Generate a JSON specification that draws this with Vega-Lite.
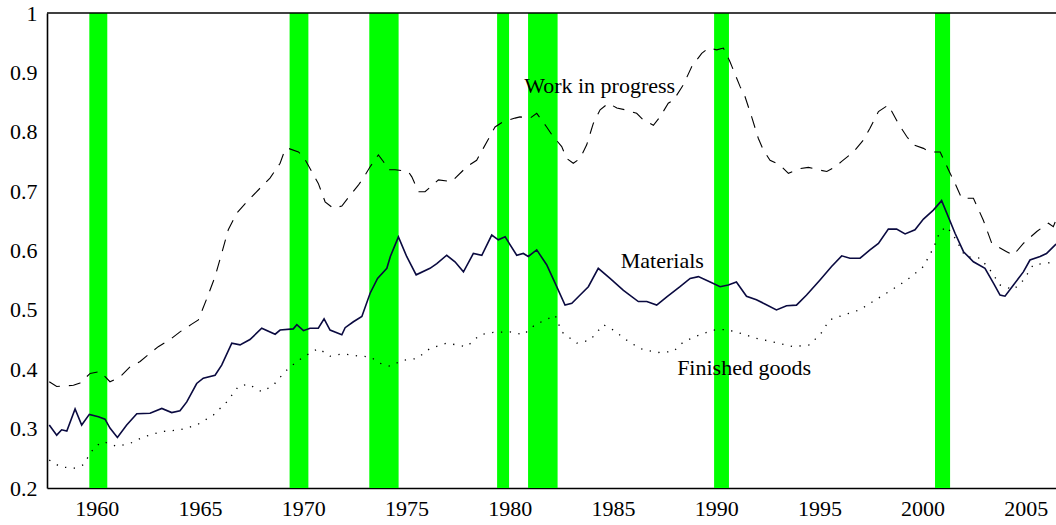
{
  "$schema": "https://vega.github.io/schema/vega-lite/v6.json",
  "width": 1009,
  "height": 475,
  "autosize": {"type": "none"},
  "padding": {"left": 47, "top": 13, "right": 0, "bottom": 37},
  "background": "white",
  "config": {
    "view": {"stroke": null},
    "font": "Liberation Serif",
    "axis": {"labelFont": "Liberation Serif", "labelFontSize": 22, "labelColor": "#000", "grid": false, "title": null, "domainColor": "#000", "domainWidth": 1.6, "tickSize": 0}
  },
  "datasets": {
    "bands": [
      {"start": 1959.64, "end": 1960.51},
      {"start": 1969.34, "end": 1970.25},
      {"start": 1973.20, "end": 1974.62},
      {"start": 1979.39, "end": 1979.97},
      {"start": 1980.89, "end": 1982.32},
      {"start": 1989.90, "end": 1990.62},
      {"start": 2000.60, "end": 2001.33}
    ],
    "materials": [
      {"year": 1957.70, "value": 0.306}, {"year": 1958.06, "value": 0.289}, {"year": 1958.30, "value": 0.298}, {"year": 1958.55, "value": 0.296},
      {"year": 1958.95, "value": 0.333}, {"year": 1959.27, "value": 0.306}, {"year": 1959.64, "value": 0.324}, {"year": 1960.08, "value": 0.320},
      {"year": 1960.40, "value": 0.316}, {"year": 1960.64, "value": 0.301}, {"year": 1961.00, "value": 0.285}, {"year": 1961.45, "value": 0.306},
      {"year": 1961.94, "value": 0.325}, {"year": 1962.58, "value": 0.326}, {"year": 1963.15, "value": 0.334}, {"year": 1963.63, "value": 0.327},
      {"year": 1964.03, "value": 0.330}, {"year": 1964.36, "value": 0.345}, {"year": 1964.84, "value": 0.376}, {"year": 1965.16, "value": 0.385},
      {"year": 1965.73, "value": 0.390}, {"year": 1966.05, "value": 0.407}, {"year": 1966.54, "value": 0.444}, {"year": 1966.94, "value": 0.441},
      {"year": 1967.42, "value": 0.450}, {"year": 1967.99, "value": 0.469}, {"year": 1968.64, "value": 0.459}, {"year": 1968.88, "value": 0.466},
      {"year": 1969.52, "value": 0.468}, {"year": 1969.69, "value": 0.475}, {"year": 1970.01, "value": 0.465}, {"year": 1970.33, "value": 0.469},
      {"year": 1970.73, "value": 0.469}, {"year": 1971.01, "value": 0.485}, {"year": 1971.30, "value": 0.466}, {"year": 1971.87, "value": 0.458},
      {"year": 1972.03, "value": 0.470}, {"year": 1972.43, "value": 0.480}, {"year": 1972.84, "value": 0.489}, {"year": 1973.24, "value": 0.528},
      {"year": 1973.60, "value": 0.553}, {"year": 1974.05, "value": 0.570}, {"year": 1974.22, "value": 0.590}, {"year": 1974.61, "value": 0.623},
      {"year": 1975.01, "value": 0.590}, {"year": 1975.47, "value": 0.559}, {"year": 1976.14, "value": 0.570}, {"year": 1976.47, "value": 0.578},
      {"year": 1976.95, "value": 0.592}, {"year": 1977.35, "value": 0.581}, {"year": 1977.76, "value": 0.564}, {"year": 1978.24, "value": 0.595},
      {"year": 1978.65, "value": 0.592}, {"year": 1979.13, "value": 0.626}, {"year": 1979.45, "value": 0.618}, {"year": 1979.78, "value": 0.623},
      {"year": 1980.34, "value": 0.592}, {"year": 1980.66, "value": 0.595}, {"year": 1980.90, "value": 0.590}, {"year": 1981.31, "value": 0.601},
      {"year": 1981.79, "value": 0.576}, {"year": 1982.20, "value": 0.545}, {"year": 1982.68, "value": 0.508}, {"year": 1983.01, "value": 0.511},
      {"year": 1983.41, "value": 0.525}, {"year": 1983.81, "value": 0.539}, {"year": 1984.29, "value": 0.570}, {"year": 1984.86, "value": 0.553},
      {"year": 1985.51, "value": 0.533}, {"year": 1986.23, "value": 0.514}, {"year": 1986.64, "value": 0.514}, {"year": 1987.12, "value": 0.508},
      {"year": 1987.61, "value": 0.522}, {"year": 1988.25, "value": 0.539}, {"year": 1988.74, "value": 0.553}, {"year": 1989.14, "value": 0.556},
      {"year": 1989.71, "value": 0.547}, {"year": 1990.19, "value": 0.539}, {"year": 1990.59, "value": 0.542}, {"year": 1990.98, "value": 0.547},
      {"year": 1991.47, "value": 0.523}, {"year": 1991.95, "value": 0.517}, {"year": 1992.36, "value": 0.510}, {"year": 1992.92, "value": 0.500},
      {"year": 1993.41, "value": 0.507}, {"year": 1993.89, "value": 0.508}, {"year": 1994.38, "value": 0.525}, {"year": 1995.02, "value": 0.550},
      {"year": 1995.59, "value": 0.573}, {"year": 1996.08, "value": 0.591}, {"year": 1996.48, "value": 0.587}, {"year": 1996.97, "value": 0.587},
      {"year": 1997.45, "value": 0.601}, {"year": 1997.86, "value": 0.612}, {"year": 1998.34, "value": 0.636}, {"year": 1998.74, "value": 0.636},
      {"year": 1999.15, "value": 0.628}, {"year": 1999.63, "value": 0.635}, {"year": 2000.04, "value": 0.653}, {"year": 2000.52, "value": 0.668},
      {"year": 2000.92, "value": 0.684}, {"year": 2001.17, "value": 0.663}, {"year": 2001.57, "value": 0.629}, {"year": 2001.98, "value": 0.598},
      {"year": 2002.46, "value": 0.581}, {"year": 2003.02, "value": 0.570}, {"year": 2003.43, "value": 0.545}, {"year": 2003.75, "value": 0.525},
      {"year": 2003.99, "value": 0.523}, {"year": 2004.40, "value": 0.542}, {"year": 2004.88, "value": 0.564}, {"year": 2005.20, "value": 0.584},
      {"year": 2005.69, "value": 0.590}, {"year": 2006.00, "value": 0.595}, {"year": 2006.41, "value": 0.609}, {"year": 2006.73, "value": 0.618}
    ],
    "wip": [
      {"year": 1957.70, "value": 0.379}, {"year": 1958.06, "value": 0.371}, {"year": 1958.87, "value": 0.373}, {"year": 1959.19, "value": 0.377},
      {"year": 1959.68, "value": 0.393}, {"year": 1960.16, "value": 0.396}, {"year": 1960.64, "value": 0.379}, {"year": 1961.13, "value": 0.387},
      {"year": 1961.61, "value": 0.404}, {"year": 1962.10, "value": 0.413}, {"year": 1962.58, "value": 0.427}, {"year": 1962.98, "value": 0.438},
      {"year": 1963.55, "value": 0.450}, {"year": 1964.03, "value": 0.463}, {"year": 1964.60, "value": 0.476}, {"year": 1964.92, "value": 0.483},
      {"year": 1965.33, "value": 0.519}, {"year": 1965.73, "value": 0.556}, {"year": 1966.05, "value": 0.595}, {"year": 1966.37, "value": 0.635},
      {"year": 1966.78, "value": 0.663}, {"year": 1967.27, "value": 0.682}, {"year": 1967.91, "value": 0.705}, {"year": 1968.39, "value": 0.722},
      {"year": 1968.88, "value": 0.747}, {"year": 1969.12, "value": 0.770}, {"year": 1969.28, "value": 0.772}, {"year": 1969.77, "value": 0.766},
      {"year": 1970.01, "value": 0.758}, {"year": 1970.41, "value": 0.733}, {"year": 1970.73, "value": 0.713}, {"year": 1971.06, "value": 0.682},
      {"year": 1971.46, "value": 0.671}, {"year": 1971.87, "value": 0.675}, {"year": 1972.27, "value": 0.693}, {"year": 1972.67, "value": 0.710},
      {"year": 1973.00, "value": 0.727}, {"year": 1973.24, "value": 0.741}, {"year": 1973.64, "value": 0.761}, {"year": 1973.88, "value": 0.750},
      {"year": 1974.12, "value": 0.736}, {"year": 1974.45, "value": 0.736}, {"year": 1975.09, "value": 0.733}, {"year": 1975.26, "value": 0.724},
      {"year": 1975.58, "value": 0.699}, {"year": 1975.90, "value": 0.699}, {"year": 1976.55, "value": 0.719}, {"year": 1977.19, "value": 0.716},
      {"year": 1977.92, "value": 0.741}, {"year": 1978.40, "value": 0.752}, {"year": 1978.72, "value": 0.772}, {"year": 1979.29, "value": 0.808},
      {"year": 1979.69, "value": 0.817}, {"year": 1980.26, "value": 0.823}, {"year": 1980.50, "value": 0.825}, {"year": 1980.99, "value": 0.823},
      {"year": 1981.31, "value": 0.831}, {"year": 1981.79, "value": 0.808}, {"year": 1982.04, "value": 0.795}, {"year": 1982.52, "value": 0.775},
      {"year": 1982.76, "value": 0.755}, {"year": 1983.08, "value": 0.747}, {"year": 1983.41, "value": 0.755}, {"year": 1983.73, "value": 0.778},
      {"year": 1984.05, "value": 0.814}, {"year": 1984.38, "value": 0.837}, {"year": 1984.78, "value": 0.848}, {"year": 1985.19, "value": 0.840},
      {"year": 1985.59, "value": 0.837}, {"year": 1986.15, "value": 0.831}, {"year": 1986.47, "value": 0.820}, {"year": 1986.96, "value": 0.811},
      {"year": 1987.28, "value": 0.825}, {"year": 1987.68, "value": 0.848}, {"year": 1987.93, "value": 0.853}, {"year": 1988.41, "value": 0.879},
      {"year": 1988.82, "value": 0.910}, {"year": 1989.30, "value": 0.932}, {"year": 1989.63, "value": 0.941}, {"year": 1990.03, "value": 0.938},
      {"year": 1990.35, "value": 0.941}, {"year": 1990.67, "value": 0.918}, {"year": 1991.16, "value": 0.876}, {"year": 1991.40, "value": 0.859},
      {"year": 1991.72, "value": 0.825}, {"year": 1992.04, "value": 0.789}, {"year": 1992.29, "value": 0.769}, {"year": 1992.61, "value": 0.752},
      {"year": 1993.09, "value": 0.744}, {"year": 1993.50, "value": 0.730}, {"year": 1994.06, "value": 0.738}, {"year": 1994.47, "value": 0.740},
      {"year": 1994.95, "value": 0.736}, {"year": 1995.36, "value": 0.733}, {"year": 1995.76, "value": 0.741}, {"year": 1996.08, "value": 0.750},
      {"year": 1996.65, "value": 0.766}, {"year": 1997.13, "value": 0.786}, {"year": 1997.45, "value": 0.806}, {"year": 1997.86, "value": 0.834},
      {"year": 1998.34, "value": 0.845}, {"year": 1998.82, "value": 0.814}, {"year": 1999.23, "value": 0.792}, {"year": 1999.55, "value": 0.778},
      {"year": 2000.04, "value": 0.772}, {"year": 2000.36, "value": 0.766}, {"year": 2000.85, "value": 0.766}, {"year": 2001.25, "value": 0.736},
      {"year": 2001.57, "value": 0.713}, {"year": 2001.89, "value": 0.688}, {"year": 2002.46, "value": 0.688}, {"year": 2002.94, "value": 0.651},
      {"year": 2003.35, "value": 0.612}, {"year": 2004.07, "value": 0.598}, {"year": 2004.39, "value": 0.592}, {"year": 2004.88, "value": 0.612},
      {"year": 2005.53, "value": 0.632}, {"year": 2006.09, "value": 0.646}, {"year": 2006.33, "value": 0.640}, {"year": 2006.50, "value": 0.655}
    ],
    "finished": [
      {"year": 1957.70, "value": 0.247}, {"year": 1958.22, "value": 0.236}, {"year": 1958.87, "value": 0.233}, {"year": 1959.35, "value": 0.239},
      {"year": 1959.68, "value": 0.258}, {"year": 1959.92, "value": 0.270}, {"year": 1960.32, "value": 0.278}, {"year": 1960.97, "value": 0.270},
      {"year": 1961.61, "value": 0.275}, {"year": 1962.26, "value": 0.286}, {"year": 1963.15, "value": 0.295}, {"year": 1964.03, "value": 0.298},
      {"year": 1964.84, "value": 0.306}, {"year": 1965.65, "value": 0.323}, {"year": 1966.30, "value": 0.345}, {"year": 1966.86, "value": 0.371},
      {"year": 1967.34, "value": 0.375}, {"year": 1967.99, "value": 0.362}, {"year": 1968.55, "value": 0.373}, {"year": 1969.12, "value": 0.396},
      {"year": 1969.69, "value": 0.413}, {"year": 1970.17, "value": 0.424}, {"year": 1970.73, "value": 0.435}, {"year": 1971.30, "value": 0.422},
      {"year": 1971.94, "value": 0.426}, {"year": 1972.75, "value": 0.422}, {"year": 1973.24, "value": 0.421}, {"year": 1973.72, "value": 0.410},
      {"year": 1974.20, "value": 0.405}, {"year": 1974.80, "value": 0.415}, {"year": 1975.50, "value": 0.418}, {"year": 1976.14, "value": 0.435},
      {"year": 1976.95, "value": 0.444}, {"year": 1977.92, "value": 0.438}, {"year": 1978.56, "value": 0.458}, {"year": 1979.21, "value": 0.462},
      {"year": 1980.02, "value": 0.463}, {"year": 1980.66, "value": 0.458}, {"year": 1981.23, "value": 0.475}, {"year": 1981.79, "value": 0.484},
      {"year": 1982.20, "value": 0.491}, {"year": 1982.52, "value": 0.463}, {"year": 1983.25, "value": 0.444}, {"year": 1983.89, "value": 0.449},
      {"year": 1984.54, "value": 0.475}, {"year": 1985.02, "value": 0.466}, {"year": 1985.67, "value": 0.449}, {"year": 1986.31, "value": 0.435},
      {"year": 1987.12, "value": 0.428}, {"year": 1987.93, "value": 0.430}, {"year": 1988.41, "value": 0.446}, {"year": 1989.06, "value": 0.456},
      {"year": 1989.86, "value": 0.466}, {"year": 1990.50, "value": 0.467}, {"year": 1991.13, "value": 0.461}, {"year": 1991.95, "value": 0.452},
      {"year": 1992.75, "value": 0.446}, {"year": 1993.72, "value": 0.438}, {"year": 1994.53, "value": 0.441}, {"year": 1995.09, "value": 0.461},
      {"year": 1995.49, "value": 0.483}, {"year": 1996.14, "value": 0.491}, {"year": 1996.95, "value": 0.500}, {"year": 1997.59, "value": 0.514},
      {"year": 1998.24, "value": 0.528}, {"year": 1998.88, "value": 0.542}, {"year": 1999.45, "value": 0.556}, {"year": 2000.04, "value": 0.573},
      {"year": 2000.52, "value": 0.604}, {"year": 2000.84, "value": 0.632}, {"year": 2001.17, "value": 0.640}, {"year": 2001.57, "value": 0.621},
      {"year": 2002.06, "value": 0.590}, {"year": 2002.79, "value": 0.587}, {"year": 2003.27, "value": 0.567}, {"year": 2003.75, "value": 0.542},
      {"year": 2004.40, "value": 0.534}, {"year": 2004.88, "value": 0.550}, {"year": 2005.36, "value": 0.576}, {"year": 2005.85, "value": 0.578},
      {"year": 2006.49, "value": 0.581}
    ],
    "labels": [
      {"year": 1980.70, "value": 0.865, "text": "Work in progress"},
      {"year": 1985.38, "value": 0.570, "text": "Materials"},
      {"year": 1988.11, "value": 0.390, "text": "Finished goods"}
    ]
  },
  "layer": [
    {
      "data": {"name": "bands"},
      "mark": {"type": "rect", "color": "#00ff00"},
      "encoding": {
        "x": {"field": "start", "type": "quantitative", "scale": {"domain": [1957.59, 2006.46], "nice": false, "zero": false},
              "axis": {"orient": "bottom", "values": [1960, 1965, 1970, 1975, 1980, 1985, 1990, 1995, 2000, 2005], "format": "d", "labelPadding": 10, "domain": true}},
        "x2": {"field": "end"}
      }
    },
    {
      "data": {"name": "wip"},
      "mark": {"type": "line", "color": "#000", "strokeWidth": 1.1, "strokeDash": [12, 9]},
      "encoding": {
        "x": {"field": "year", "type": "quantitative"},
        "y": {"field": "value", "type": "quantitative", "scale": {"domain": [0.2, 1], "nice": false, "zero": false},
              "axis": {"values": [0.2, 0.3, 0.4, 0.5, 0.6, 0.7, 0.8, 0.9, 1], "format": ".1~f", "labelPadding": 10}}
      }
    },
    {
      "data": {"name": "finished"},
      "mark": {"type": "line", "color": "#000", "strokeWidth": 1.3, "strokeDash": [1.3, 7.5]},
      "encoding": {
        "x": {"field": "year", "type": "quantitative"},
        "y": {"field": "value", "type": "quantitative"}
      }
    },
    {
      "data": {"name": "materials"},
      "mark": {"type": "line", "color": "#0a0a40", "strokeWidth": 1.6},
      "encoding": {
        "x": {"field": "year", "type": "quantitative"},
        "y": {"field": "value", "type": "quantitative"}
      }
    },
    {
      "data": {"name": "labels"},
      "mark": {"type": "text", "align": "left", "baseline": "alphabetic", "font": "Liberation Serif", "fontSize": 22, "color": "#000"},
      "encoding": {
        "x": {"field": "year", "type": "quantitative"},
        "y": {"field": "value", "type": "quantitative"},
        "text": {"field": "text"}
      }
    },
    {
      "data": {"values": [{"v": 1}]},
      "mark": {"type": "rule", "color": "#000", "strokeWidth": 1.6},
      "encoding": {
        "y": {"datum": 1}
      }
    }
  ]
}
